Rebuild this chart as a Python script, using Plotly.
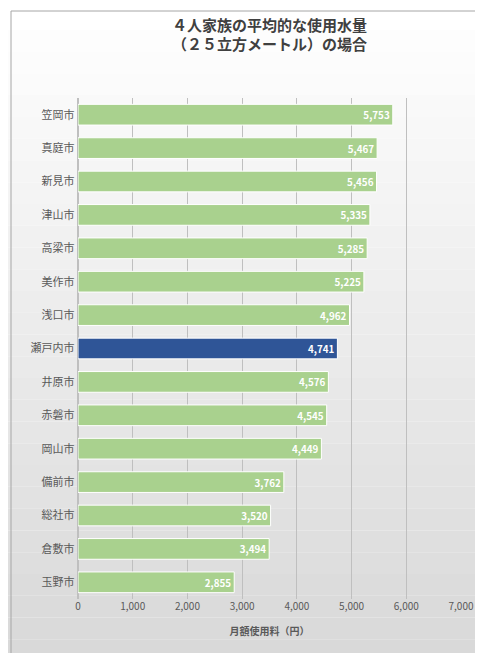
import plotly.graph_objects as go

cities = ["笠岡市", "真庭市", "新見市", "津山市", "高梁市", "美作市", "浅口市", "瀬戸内市",
          "井原市", "赤磐市", "岡山市", "備前市", "総社市", "倉敷市", "玉野市"]
fees = [5753, 5467, 5456, 5335, 5285, 5225, 4962, 4741, 4576, 4545, 4449, 3762, 3520, 3494, 2855]
highlight = "瀬戸内市"

colors = ["#2f5597" if c == highlight else "#a9d18e" for c in cities]

W, H = 483, 653
L, R, T, B = 70, 30, 90, 62
pw, ph = W - L - R, H - T - B

fig = go.Figure(go.Bar(
    x=fees, y=cities, orientation="h",
    marker=dict(color=colors, line=dict(color="white", width=1)),
    text=[f"<b>{v:,}</b>" for v in fees], textposition="inside", insidetextanchor="end",
    textfont=dict(color="white", size=10, family="Noto Sans CJK JP"),
    width=0.62,
))

# soft vertical gradient background
n = 30
for i in range(n):
    g = int(255 - 38 * i / (n - 1))
    y_top = 1 + T / ph - (i / n) * (H / ph)
    y_bot = 1 + T / ph - ((i + 1) / n) * (H / ph)
    fig.add_shape(type="rect", xref="paper", yref="paper", layer="below",
                  x0=-L / pw, x1=1 + R / pw, y0=y_bot, y1=y_top,
                  fillcolor=f"rgb({g},{g},{g})", line=dict(width=0))
fig.add_shape(type="rect", xref="paper", yref="paper",
              x0=-(L - 3) / pw, x1=1 + (R - 3) / pw, y0=-(B - 3) / ph, y1=1 + (T - 3) / ph,
              line=dict(color="#a6a6a6", width=1))

fig.update_layout(
    width=W, height=H, margin=dict(l=L, r=R, t=T, b=B, autoexpand=False),
    paper_bgcolor="white", plot_bgcolor="rgba(0,0,0,0)",
    font=dict(family="Noto Sans CJK JP", color="#595959"),
    title=dict(text="<b>４人家族の平均的な使用水量<br>（２５立方メートル）の場合</b>",
               x=0.5, xref="paper", y=0.965, yanchor="top",
               font=dict(size=15, color="#404040", family="Noto Sans CJK JP")),
    showlegend=False,
)
fig.update_xaxes(range=[0, 7000], dtick=1000, tickformat=",", showgrid=True, automargin=False,
                 gridcolor="#bfbfbf", zeroline=True, zerolinecolor="#bfbfbf",
                 tickfont=dict(size=10), title=dict(text="<b>月額使用料（円）</b>", font=dict(size=10)))
fig.update_yaxes(autorange="reversed", tickfont=dict(size=11), ticksuffix=" ", automargin=False)

fig.write_html("out.html")
